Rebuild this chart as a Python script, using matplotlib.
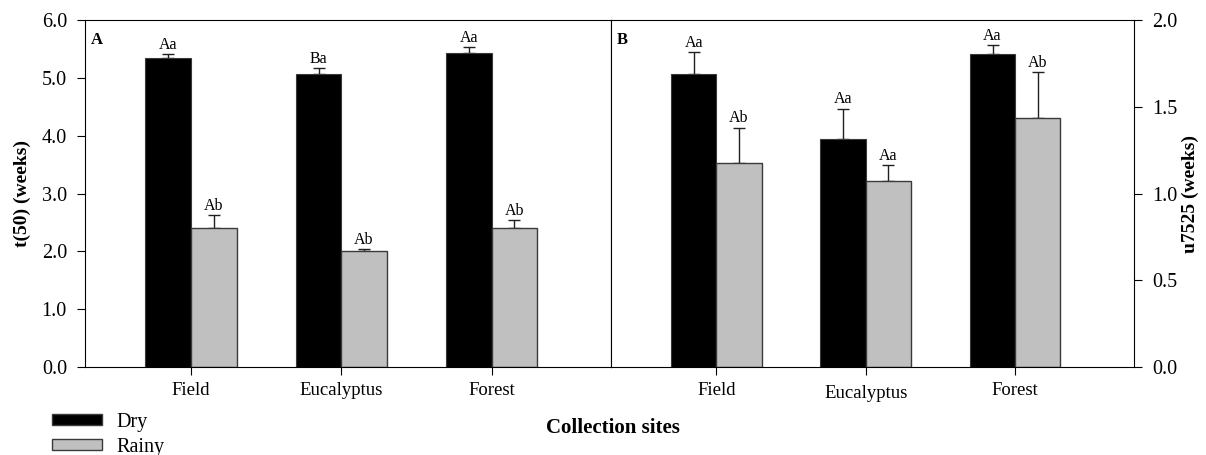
import matplotlib
matplotlib.use("Agg")
import matplotlib.pyplot as plt
from matplotlib.patches import Patch
import numpy as np

plt.rcParams['font.family'] = ['Liberation Serif', 'DejaVu Serif']

sites = ["Field", "Eucalyptus", "Forest"]

# panel A: t(50) (weeks)
t50_dry = [5.34, 5.07, 5.44]
t50_dry_err = [0.07, 0.10, 0.10]
t50_rainy = [2.41, 2.00, 2.40]
t50_rainy_err = [0.22, 0.04, 0.14]
t50_dry_lbl = ["Aa", "Ba", "Aa"]
t50_rainy_lbl = ["Ab", "Ab", "Ab"]

# panel B: u7525 (weeks)
u_dry = [1.69, 1.315, 1.806]
u_dry_err = [0.125, 0.175, 0.052]
u_rainy = [1.174, 1.073, 1.436]
u_rainy_err = [0.206, 0.091, 0.264]
u_dry_lbl = ["Aa", "Aa", "Aa"]
u_rainy_lbl = ["Ab", "Aa", "Ab"]

black = "#000000"
grey = "#c0c0c0"
edge = "#3a3a3a"
w = 0.303

fig = plt.figure(figsize=(12.06, 4.55), dpi=100)
axA = fig.add_axes([0.0705, 0.194, 0.4362, 0.7613])
axB = fig.add_axes([0.5066, 0.194, 0.4337, 0.7613])

x = np.arange(1, 4)

def draw(ax, dry, dry_err, rainy, rainy_err, dlbl, rlbl):
    ax.bar(x - w/2, dry, w, color=black, edgecolor=edge, linewidth=0.8, zorder=2)
    ax.bar(x + w/2, rainy, w, color=grey, edgecolor=edge, linewidth=1.0, zorder=2)
    ax.errorbar(x - w/2, dry, yerr=[np.zeros(3), dry_err], fmt="none",
                ecolor="#202020", elinewidth=1, capsize=4, capthick=1, zorder=1)
    ax.errorbar(x + w/2, rainy, yerr=[np.zeros(3), rainy_err], fmt="none",
                ecolor="#202020", elinewidth=1, capsize=4, capthick=1, zorder=1)
    for i in range(3):
        ax.annotate(dlbl[i], (x[i] - w/2, dry[i] + dry_err[i]), xytext=(0, 1),
                    textcoords="offset points", ha="center", va="bottom", fontsize=11.5)
        ax.annotate(rlbl[i], (x[i] + w/2, rainy[i] + rainy_err[i]), xytext=(0, 1),
                    textcoords="offset points", ha="center", va="bottom", fontsize=11.5)
    ax.set_xticks(x)
    ax.set_xticklabels(sites, fontsize=13.5)
    ax.set_xlim(0.295, 3.795)
    ax.tick_params(axis="x", direction="out", length=6, width=0.8, pad=5)
    for s in ax.spines.values():
        s.set_linewidth(0.8)

draw(axA, t50_dry, t50_dry_err, t50_rainy, t50_rainy_err, t50_dry_lbl, t50_rainy_lbl)
axA.set_ylim(0, 6)
axA.set_yticks(np.arange(0, 6.1, 1.0))
axA.set_yticklabels(["%.1f" % v for v in np.arange(0, 6.1, 1.0)], fontsize=14.5)
axA.tick_params(axis="y", direction="out", length=6, width=0.8, pad=7)
axA.set_ylabel("t(50) (weeks)", fontsize=14, fontweight="bold", labelpad=8)
axA.text(0.012, 0.965, "A", transform=axA.transAxes, fontsize=12,
         fontweight="bold", va="top", ha="left")

draw(axB, u_dry, u_dry_err, u_rainy, u_rainy_err, u_dry_lbl, u_rainy_lbl)
axB.set_ylim(0, 2)
axB.yaxis.tick_right()
axB.yaxis.set_label_position("right")
axB.set_yticks(np.arange(0, 2.01, 0.5))
axB.set_yticklabels(["%.1f" % v for v in np.arange(0, 2.01, 0.5)], fontsize=14.5)
axB.tick_params(axis="y", direction="out", length=6, width=0.8, pad=7)
axB.set_ylabel("u7525 (weeks)", fontsize=14, fontweight="bold", labelpad=3)
axB.text(0.012, 0.965, "B", transform=axB.transAxes, fontsize=12,
         fontweight="bold", va="top", ha="left")
# "Eucalyptus" sits a little lower in panel B
axB.get_xticklabels()[1].set_y(-0.008)

fig.text(0.508, 0.059, "Collection sites", ha="center", va="center",
         fontsize=15, fontweight="bold")

handles = [Patch(facecolor=black, edgecolor=edge, label="Dry"),
           Patch(facecolor=grey, edgecolor=edge, label="Rainy")]
fig.legend(handles=handles, loc="upper left", bbox_to_anchor=(0.043, 0.093),
           frameon=False, fontsize=14.5, handlelength=2.5, handleheight=0.5,
           labelspacing=0.3, handletextpad=0.7, borderpad=0, borderaxespad=0)

fig.savefig("out.png", dpi=100)
